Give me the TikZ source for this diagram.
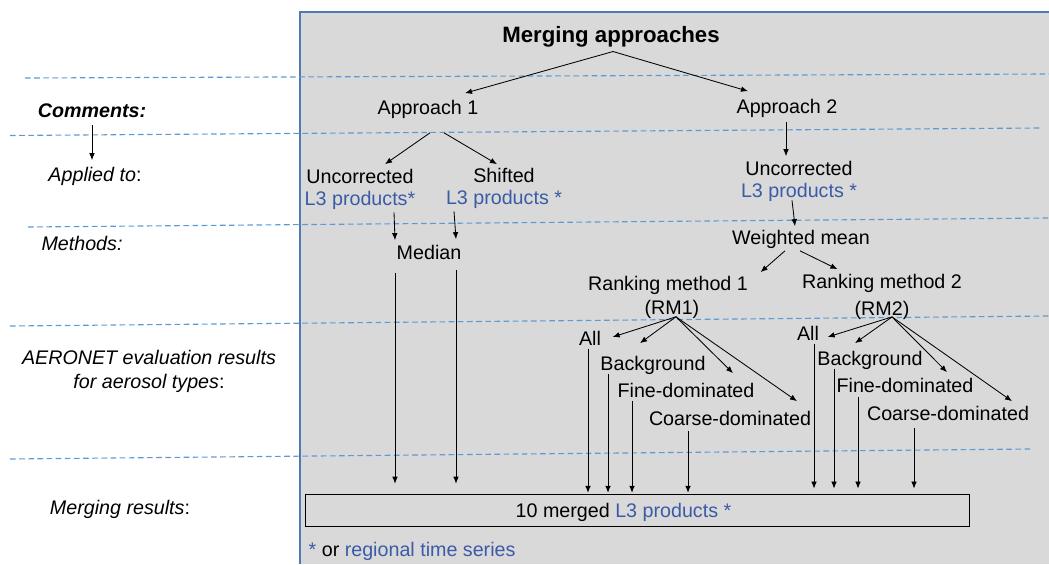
\documentclass[tikz,border=0pt]{standalone}
\usepackage{fontspec}
\setmainfont{Liberation Sans}
\usetikzlibrary{positioning,arrows.meta,calc}

\definecolor{panelgray}{RGB}{217,217,217}
\definecolor{paneledge}{RGB}{79,121,176}
\definecolor{seplight}{RGB}{91,155,213}
\definecolor{prodblue}{RGB}{59,91,166}

\begin{document}
\begin{tikzpicture}[
  x=0.025cm, y=-0.025cm,
  font=\fontsize{14}{17}\selectfont,
  txt/.style={inner sep=1pt, text height=11.8pt, text depth=1.2pt},
  prod/.style={txt, text=prodblue},
  arrow/.style={-{Latex[length=5pt,width=4pt]}, line width=0.6pt},
  sep/.style={draw=seplight, line width=0.8pt, dash pattern=on 4pt off 2.5pt},
  resbox/.style={draw=black, line width=0.7pt, minimum width=16.6cm, minimum height=0.8cm, inner sep=1pt, text height=11.8pt, text depth=1.2pt}
]
\useasboundingbox (0,0) rectangle (1049,564);

% grey panel and level separators
\fill[panelgray] (300,12) rectangle (1049,564);
\draw[paneledge, line width=1.4pt] (300,564) -- (300,12) -- (1049,12);
\draw[sep] (25,78) -- (1049,74);
\draw[sep] (10,135.5) -- (1040,128);
\draw[sep] (28,227) -- (1049,218);
\draw[sep] (10,326) -- (1049,316);
\draw[sep] (10,459) -- (1030,449);

% Left: row captions
\node[txt, font=\fontsize{14}{17}\selectfont\bfseries\itshape] (comments) at (92,110) {Comments:};
\node[txt] (applied) at (95,174) {\textit{Applied to}:};
\node[txt] (methods) at (82,243) {\textit{Methods:}};
\node[inner sep=1pt, align=center] (aeronet) at (149,371.5) {\textit{AERONET evaluation results}\\\textit{for aerosol types}:};
\node[txt] (mresults) at (120,507) {\textit{Merging results}:};
\draw[arrow] ($(comments.south)+(0,4)$) -- ($(applied.north)+(-3,-3)$);

% Top of the tree
\node[txt, font=\fontsize{15.8}{18}\selectfont\bfseries, text height=12.6pt, text depth=1.4pt] (title) at (611,35) {Merging approaches};
\node[txt] (appr1) at (428,107) {Approach 1};
\node[txt] (appr2) at (787,106) {Approach 2};
\draw[arrow] ($(title.south)+(2,5)$) -- ($(appr1.north)+(37,-3)$);
\draw[arrow] ($(title.south)+(2,5)$) -- ($(appr2.north)+(-39,-4)$);

% Approach 1 branch
\node[txt] (unc1) at (360,176) {Uncorrected};
\node[prod, below=0.6pt of unc1] (l3a) {L3 products*};
\node[txt] (shift1) at (504,175) {Shifted};
\node[prod, below=0.6pt of shift1] (l3b) {L3 products *};
\node[txt] (median) at (429,252) {Median};
\draw[arrow] ($(appr1.south)+(2,15)$) -- ($(unc1.north)+(25,-1)$);
\draw[arrow] ($(appr1.south)+(16,15)$) -- ($(shift1.north)+(-7,0)$);
\draw[arrow] ($(l3a.south)+(34,3)$) -- ($(median.north)+(-34,-1)$);
\draw[arrow] ($(l3b.south)+(-50,3)$) -- ($(median.north)+(27,-2)$);

% Approach 2 branch
\node[txt] (unc2) at (799,168) {Uncorrected};
\node[prod, below=0.6pt of unc2] (l3c) {L3 products *};
\node[txt] (wmean) at (801,237) {Weighted mean};
\node[txt] (rm1) at (668,283) {Ranking method 1};
\node[txt, below=2pt of rm1, xshift=2.8pt] (rm1b) {(RM1)};
\node[txt] (rm2) at (882,281) {Ranking method 2};
\node[txt, below=3.5pt of rm2] (rm2b) {(RM2)};
\draw[arrow] ($(appr2.south)+(-1,5)$) -- ($(unc2.north)+(-13,-1)$);
\draw[arrow] ($(l3c.south)+(-7,-1)$) -- ($(wmean.north)+(-6,0)$);
\draw[arrow] ($(wmean.south)+(-16,3)$) -- ($(rm1.north east)+(11,0)$);
\draw[arrow] ($(wmean.south)+(-1,3)$) -- ($(rm2.north west)+(37,-1)$);

% AERONET aerosol types, RM1
\coordinate (fan1) at ($(rm1b.south)+(4,-1.5)$);
\node[txt] (all1) at (590,338) {All};
\node[txt] (bg1) at (653,363) {Background};
\node[txt] (fine1) at (686,390) {Fine-dominated};
\node[txt] (coarse1) at (730,418) {Coarse-dominated};
\draw[arrow] (fan1) -- ($(all1.east)+(10,-1)$);
\draw[arrow] (fan1) -- ($(bg1.north)+(-13,-9)$);
\draw[arrow] (fan1) -- ($(fine1.north)+(47,-6)$);
\draw[arrow] (fan1) -- ($(coarse1.north)+(67,-6)$);

% AERONET aerosol types, RM2
\coordinate (fan2) at ($(rm2b.south)+(10,-1.5)$);
\node[txt] (all2) at (808,333) {All};
\node[txt] (bg2) at (870,358) {Background};
\node[txt] (fine2) at (905,385) {Fine-dominated};
\node[txt] (coarse2) at (948,413) {Coarse-dominated};
\draw[arrow] (fan2) -- ($(all2.east)+(7,4)$);
\draw[arrow] (fan2) -- ($(bg2.north)+(-15,-4)$);
\draw[arrow] (fan2) -- ($(fine2.north)+(42,-2)$);
\draw[arrow] (fan2) -- ($(coarse2.north)+(64,-1)$);

% Merged results
\node[resbox] (merged) at (637.5,510) {10 merged \textcolor{prodblue}{L3 products *}\hspace*{0.7cm}};
\node[txt, anchor=west] (note) at (307,549) {\textcolor{prodblue}{*} or \textcolor{prodblue}{regional time series}};

\draw[arrow, shorten >=7pt] ($(median.south)+(-34,10)$) coordinate (m1) -- (m1 |- merged.north);
\draw[arrow, shorten >=7pt] ($(median.south)+(27,7)$) coordinate (m2) -- (m2 |- merged.north);
\draw[arrow, shorten >=0.5pt] ($(all1.south)+(-2,0)$) coordinate (a1) -- (a1 |- merged.north);
\draw[arrow, shorten >=0.5pt] ($(bg1.south)+(-45,0)$) coordinate (b1) -- (b1 |- merged.north);
\draw[arrow, shorten >=0.5pt] ($(fine1.south)+(-54,0)$) coordinate (f1) -- (f1 |- merged.north);
\draw[arrow, shorten >=0.5pt] ($(coarse1.south)+(-42,2)$) coordinate (c1) -- (c1 |- merged.north);
\draw[arrow, shorten >=3.5pt] ($(all2.south)+(6,0)$) coordinate (a2) -- (a2 |- merged.north);
\draw[arrow, shorten >=3.5pt] ($(bg2.south)+(-36,0)$) coordinate (b2) -- (b2 |- merged.north);
\draw[arrow, shorten >=3.5pt] ($(fine2.south)+(-47,1)$) coordinate (f2) -- (f2 |- merged.north);
\draw[arrow, shorten >=3.5pt] ($(coarse2.south)+(-34,4)$) coordinate (c2) -- (c2 |- merged.north);

\end{tikzpicture}
\end{document}
